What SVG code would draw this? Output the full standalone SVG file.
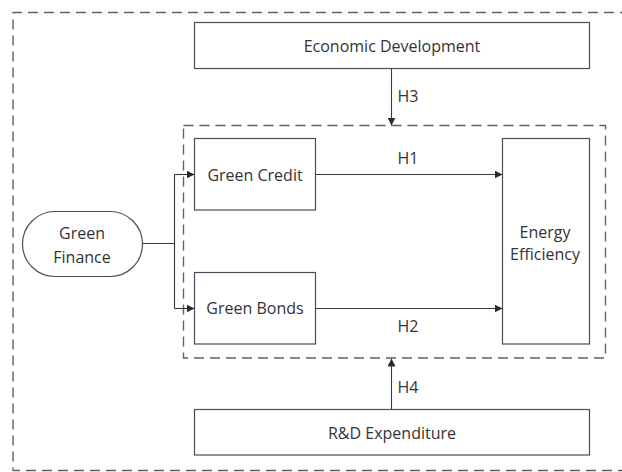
<svg xmlns="http://www.w3.org/2000/svg" width="622" height="472" viewBox="0 0 622 472">
  <style>
    .box { fill: #ffffff; stroke: #4a4e58; stroke-width: 1.2; }
    .frame { fill: none; stroke: #5f626a; stroke-width: 1.4; stroke-dasharray: 10 6; }
    .lbl { font-family: "Open Sans", "Noto Sans", sans-serif; font-size: 16px; fill: #333333; text-anchor: middle; dominant-baseline: central; }
    .conn { fill: none; stroke: #3a3a3a; stroke-width: 1.1; }
  </style>
  <defs>
    <marker id="arr" viewBox="0 0 10 10" refX="10" refY="5" markerWidth="8" markerHeight="8" markerUnits="userSpaceOnUse" orient="auto">
      <path d="M0,0 L10,5 L0,10 z" fill="#2a2a2a"/>
    </marker>
  </defs>
  <rect width="622" height="472" fill="#ffffff"/>

  <g id="outer-frame">
    <path class="frame" d="M630,12.5 L13,12.5 L13,470.5 L630,470.5"/>
  </g>
  <g id="inner-frame">
    <rect class="frame" x="183.5" y="125.5" width="422" height="232.5"/>
  </g>

  <g id="economic-development">
    <rect class="box" x="194.5" y="22.5" width="395" height="46"/>
    <text class="lbl" x="392" y="46">Economic Development</text>
  </g>
  <g id="green-finance">
    <rect class="box" x="22.5" y="211.5" width="120" height="65" rx="32.5" ry="32.5"/>
    <text class="lbl" x="82" y="233">Green</text>
    <text class="lbl" x="82" y="257">Finance</text>
  </g>
  <g id="green-credit">
    <rect class="box" x="194.5" y="138.5" width="121" height="71.5"/>
    <text class="lbl" x="255" y="175">Green Credit</text>
  </g>
  <g id="green-bonds">
    <rect class="box" x="194.5" y="272.5" width="121" height="71.5"/>
    <text class="lbl" x="255" y="308">Green Bonds</text>
  </g>
  <g id="energy-efficiency">
    <rect class="box" x="502.5" y="138.5" width="87" height="205.5"/>
    <text class="lbl" x="545" y="232">Energy</text>
    <text class="lbl" x="545" y="254">Efficiency</text>
  </g>
  <g id="rd-expenditure">
    <rect class="box" x="194.5" y="409.5" width="395" height="45.5"/>
    <text class="lbl" x="392" y="433">R&amp;D Expenditure</text>
  </g>

  <g id="connectors">
    <path class="conn" d="M142.5,243.5 L174.5,243.5"/>
    <path class="conn" d="M174.5,174.5 L174.5,308.5"/>
    <path class="conn" d="M174.5,174.5 L194.5,174.5" marker-end="url(#arr)"/>
    <path class="conn" d="M174.5,308.5 L194.5,308.5" marker-end="url(#arr)"/>
    <path class="conn" d="M315.5,174.5 L502.5,174.5" marker-end="url(#arr)"/>
    <path class="conn" d="M315.5,308.5 L502.5,308.5" marker-end="url(#arr)"/>
    <path class="conn" d="M391.5,68.5 L391.5,125.5" marker-end="url(#arr)"/>
    <path class="conn" d="M391.5,409.5 L391.5,358.5" marker-end="url(#arr)"/>
    <text class="lbl" x="408" y="96">H3</text>
    <text class="lbl" x="408" y="158">H1</text>
    <text class="lbl" x="408" y="326">H2</text>
    <text class="lbl" x="408" y="387">H4</text>
  </g>
</svg>
